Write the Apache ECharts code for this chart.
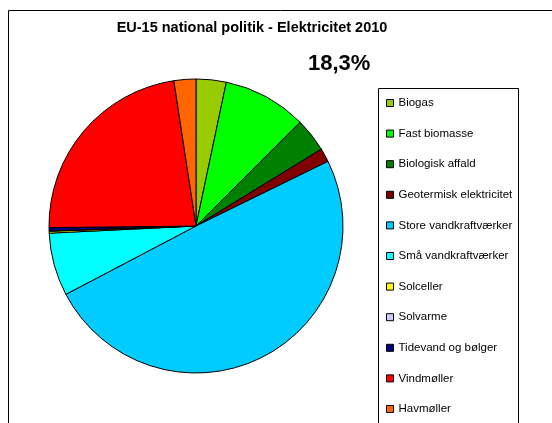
<!DOCTYPE html>
<html><head><meta charset="utf-8">
<script src="https://cdn.jsdelivr.net/npm/echarts@6/dist/echarts.min.js"></script>
<style>html,body{margin:0;padding:0;background:#fff}#c{width:552px;height:423px}</style>
</head><body><div id="c"></div>
<script>
const categories = ["Biogas","Fast biomasse","Biologisk affald","Geotermisk elektricitet","Store vandkraftværker","Små vandkraftværker","Solceller","Solvarme","Tidevand og bølger","Vindmøller","Havmøller"];
const values = [3.3, 9.2, 3.7, 1.5, 49.4, 6.9, 0.2, 0.05, 0.35, 22.7, 2.4];
const colors = ["#99CC00","#00FF00","#008000","#800000","#00CCFF","#00FFFF","#FFFF00","#CCCCFF","#000080","#FF0000","#FF6600"];
const titleText = "EU-15 national politik - Elektricitet 2010";
const shareText = "18,3%";

const chart = echarts.init(document.getElementById('c'));
chart.setOption({
  animation: false,
  backgroundColor: '#fff',
  title: [
    {text: titleText, left: 247, top: 15, textAlign: 'center',
     textStyle: {fontFamily: 'Liberation Sans, Arial', fontSize: 14.5, fontWeight: 'bold', color: '#000'}},
    {text: shareText, left: 303, top: 48,
     textStyle: {fontFamily: 'Liberation Sans, Arial', fontSize: 22, fontWeight: 'bold', color: '#000'}}
  ],
  graphic: [
    {type: 'rect', shape: {x: 8.5, y: 10.5, width: 700, height: 600}, style: {fill: 'none', stroke: '#000', lineWidth: 1}, z: -1},
    {type: 'rect', shape: {x: 378.5, y: 88.5, width: 140, height: 400}, style: {fill: '#fff', stroke: '#000', lineWidth: 1}, z: -1}
  ],
  legend: {
    orient: 'vertical', left: 386, top: 96, padding: 0,
    itemWidth: 7, itemHeight: 7, itemGap: 16.6,
    icon: 'rect',
    textStyle: {fontFamily: 'Liberation Sans, Arial', fontSize: 11.5, color: '#000', lineHeight: 14},
    itemStyle: {borderColor: '#000', borderWidth: 1},
    data: categories
  },
  series: [{
    type: 'pie',
    center: [196, 226], radius: 147,
    startAngle: 90, clockwise: true,
    label: {show: false}, labelLine: {show: false},
    emphasis: {disabled: true},
    itemStyle: {borderColor: '#000', borderWidth: 1},
    data: categories.map((n, i) => ({name: n, value: values[i], itemStyle: {color: colors[i]}}))
  }]
});
</script></body></html>
